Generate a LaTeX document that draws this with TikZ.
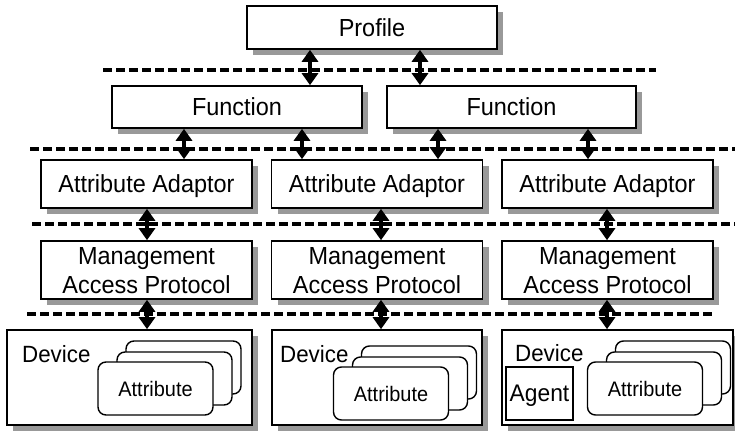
\documentclass[tikz,border=0pt]{standalone}
\usepackage{fontspec}
\setmainfont[FakeStretch=0.95]{Liberation Sans}
\usetikzlibrary{arrows.meta,shadows}

\tikzset{
  box/.style={draw,line width=1.6pt,fill=white,inner sep=0pt,
    drop shadow={shadow xshift=6pt,shadow yshift=-6pt,fill=black!40,opacity=1},
    font=\fontsize{24.7}{29}\selectfont,text depth=0pt},
  card/.style={draw,line width=1.4pt,fill=white,rounded corners=8pt,
    minimum width=115pt,minimum height=53pt,inner sep=0pt,
    font=\fontsize{21}{25}\selectfont,text depth=0pt},
  devlabel/.style={anchor=base west,inner sep=0pt,font=\fontsize{23.5}{27}\selectfont},
  divider/.style={line width=3.2pt,dash pattern=on 9pt off 4pt},
  link/.style={line width=3.2pt,{Triangle[width=16pt,length=12pt]}-{Triangle[width=16pt,length=12pt]}}
}

\begin{document}
\begin{tikzpicture}[x=1pt,y=-1pt]
  \useasboundingbox (0,0) rectangle (735,431);

  % layer separators
  \draw[divider] (103,70) -- (656,70);
  \draw[divider] (30,149) -- (735,149);
  \draw[divider] (32,224) -- (735,224);
  \draw[divider] (27,314) -- (715,314);

  % boxes
  \node[box,minimum width=250pt,minimum height=43pt] (profile) at (372,27.5) {Profile};
  \node[box,minimum width=250pt,minimum height=42pt] (fun1) at (237,107) {Function};
  \node[box,minimum width=249pt,minimum height=42pt] (fun2) at (511.5,107) {Function};
  \foreach \n/\x in {1/146.5,2/377,3/607.5} {
    \node[box,minimum width=211pt,minimum height=48pt] (ada\n) at (\x,184) {Attribute Adaptor};
    \node[box,minimum width=211pt,minimum height=58pt,align=center] (map\n) at (\x,270) {Management\\Access Protocol};
  }
  \node[box,minimum width=245pt,minimum height=95pt] (dev1) at (129.5,377.5) {};
  \node[box,minimum width=210pt,minimum height=95pt] (dev2) at (377,377.5) {};
  \node[box,minimum width=231pt,minimum height=95pt] (dev3) at (617.5,377.5) {};

  \node[devlabel] (devtxt1) at (22,362) {Device};
  \node[devlabel] (devtxt2) at (280,362) {Device};
  \node[devlabel] (devtxt3) at (515,361.5) {Device};

  % stacked attributes
  \foreach \n/\x/\y in {1/155.5/388.5,2/391/393.5,3/645/388.5} {
    \node[card] (back\n) at (\x+28,\y-21) {};
    \node[card] (mid\n) at (\x+19,\y-10) {};
    \node[card] (attr\n) at (\x,\y) {Attribute};
  }
  \node[draw,line width=1.4pt,fill=white,inner sep=0pt,minimum width=67pt,minimum height=53pt,
    font=\fontsize{24}{28}\selectfont,text depth=0pt] (agent) at (539.5,393.5) {Agent};

  % links between layers
  \draw[link] ([xshift=-62pt]profile.south) -- ([xshift=73pt]fun1.north);
  \draw[link] ([xshift=48pt]profile.south) -- ([xshift=-91.5pt]fun2.north);
  \draw[link] ([xshift=-53pt]fun1.south) -- ([xshift=37.5pt]ada1.north);
  \draw[link] ([xshift=65pt]fun1.south) -- ([xshift=-75pt]ada2.north);
  \draw[link] ([xshift=-73.5pt]fun2.south) -- ([xshift=61pt]ada2.north);
  \draw[link] ([xshift=76.5pt]fun2.south) -- ([xshift=-19.5pt]ada3.north);
  \foreach \n/\dx/\dd in {1/0.5/17.5,2/4/4,3/-0.5/-10.5} {
    \draw[link] ([xshift=\dx pt]ada\n.south) -- ([xshift=\dx pt]map\n.north);
    \draw[link] ([xshift=\dx pt]map\n.south) -- ([xshift=\dd pt]dev\n.north);
  }
\end{tikzpicture}
\end{document}
